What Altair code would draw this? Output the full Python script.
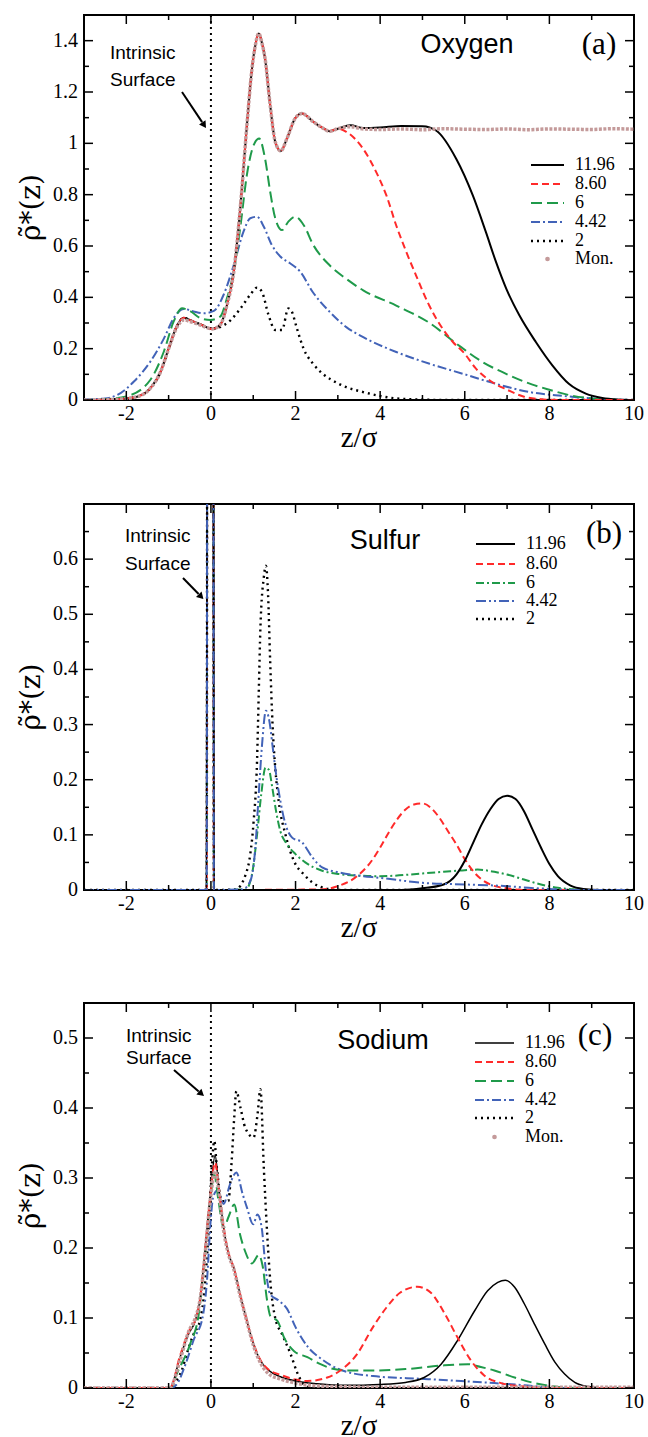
import math
import altair as alt
import pandas as pd

# ---------------- axis ticks ----------------
X_MAJOR = [-2, 0, 2, 4, 6, 8, 10]
X_MINOR = [-1, 1, 3, 5, 7, 9]

Y_MAJ_A = [0, 0.2, 0.4, 0.6, 0.8, 1.0, 1.2, 1.4]
Y_MIN_A = [0.1, 0.3, 0.5, 0.7, 0.9, 1.1, 1.3]
Y_MAJ_B = [0, 0.1, 0.2, 0.3, 0.4, 0.5, 0.6]
Y_MIN_B = [0.05, 0.15, 0.25, 0.35, 0.45, 0.55, 0.65]
Y_MAJ_C = [0, 0.1, 0.2, 0.3, 0.4, 0.5]
Y_MIN_C = [0.05, 0.15, 0.25, 0.35, 0.45]

LABELS_AC = ["11.96", "8.60", "6", "4.42", "2", "Mon."]
LABELS_B = ["11.96", "8.60", "6", "4.42", "2"]

# ---------------- (a) Oxygen ----------------
OX_1196_Z = [-3, -2.5, -2, -1.7, -1.43, -1.19, -1.0, -0.8, -0.64, -0.48, -0.25, 0.03, 0.22, 0.38,
             0.54, 0.70, 0.85, 0.97, 1.05, 1.13, 1.2, 1.28, 1.40, 1.52, 1.65, 1.80, 1.99, 2.15, 2.42,
             2.66, 2.8, 3.0, 3.3, 3.6, 4.0, 4.5, 5.0, 5.33, 5.8, 6.19, 6.5, 6.74, 6.98, 7.29, 7.68,
             8.07, 8.46, 8.86, 9.25, 9.6, 10]
OX_1196_R = [0, 0.001, 0.006, 0.015, 0.046, 0.11, 0.20, 0.29, 0.32, 0.31, 0.295, 0.277, 0.293, 0.37,
             0.50, 0.76, 1.07, 1.29, 1.382, 1.428, 1.395, 1.33, 1.15, 1.006, 0.97, 1.02, 1.097, 1.116,
             1.084, 1.058, 1.047, 1.057, 1.07, 1.06, 1.062, 1.068, 1.067, 1.049, 0.939, 0.797, 0.654,
             0.537, 0.434, 0.33, 0.226, 0.135, 0.063, 0.025, 0.008, 0.002, 0]

OX_860_Z = [-3, -2.5, -2, -1.7, -1.43, -1.19, -1.0, -0.8, -0.64, -0.48, -0.25, 0.03, 0.22, 0.38,
            0.54, 0.70, 0.85, 0.97, 1.05, 1.13, 1.2, 1.28, 1.40, 1.52, 1.65, 1.80, 1.99, 2.15, 2.42,
            2.66, 2.8, 3.0, 3.2, 3.6, 3.91, 4.15, 4.38, 4.62, 4.85, 5.16, 5.48, 5.72, 6.0, 6.25, 6.6,
            7.0, 7.4, 7.8, 8.2, 10]
OX_860_R = [0, 0.001, 0.006, 0.015, 0.046, 0.11, 0.20, 0.29, 0.32, 0.31, 0.295, 0.277, 0.293, 0.37,
            0.50, 0.76, 1.07, 1.29, 1.382, 1.428, 1.395, 1.33, 1.15, 1.006, 0.97, 1.02, 1.097, 1.116,
            1.084, 1.058, 1.047, 1.057, 1.045, 0.978, 0.887, 0.796, 0.68, 0.576, 0.485, 0.368, 0.277,
            0.226, 0.18, 0.125, 0.075, 0.04, 0.013, 0.003, 0, 0]

OX_6_Z = [-3, -2.5, -2, -1.43, -1.11, -0.88, -0.68, -0.48, -0.25, -0.01, 0.22, 0.38, 0.54, 0.70, 0.85,
          1.01, 1.14, 1.28, 1.40, 1.52, 1.68, 1.83, 1.99, 2.19, 2.42, 2.81, 3.2, 3.6, 4.38, 5.17, 5.8,
          6.4, 7.0, 7.6, 8.0, 8.5, 9.0, 9.5, 10]
OX_6_R = [0, 0.003, 0.014, 0.079, 0.19, 0.306, 0.357, 0.345, 0.319, 0.312, 0.325, 0.397, 0.50, 0.68,
          0.877, 0.993, 1.019, 0.94, 0.812, 0.708, 0.662, 0.695, 0.714, 0.682, 0.604, 0.524, 0.472,
          0.427, 0.368, 0.30, 0.22, 0.15, 0.10, 0.06, 0.04, 0.018, 0.006, 0.001, 0]

OX_442_Z = [-3, -2.5, -2.21, -1.82, -1.43, -1.11, -0.88, -0.64, -0.41, -0.17, 0.07, 0.30, 0.54, 0.77,
            0.93, 1.09, 1.25, 1.44, 1.64, 1.87, 2.11, 2.41, 2.81, 3.2, 3.6, 4.38, 5.17, 5.96, 6.74,
            7.53, 8.31, 9.1, 9.6, 10]
OX_442_R = [0.002, 0.006, 0.02, 0.072, 0.15, 0.24, 0.319, 0.355, 0.345, 0.338, 0.347, 0.41, 0.526,
            0.656, 0.708, 0.714, 0.675, 0.604, 0.559, 0.533, 0.5, 0.42, 0.343, 0.284, 0.245, 0.187,
            0.141, 0.102, 0.063, 0.031, 0.016, 0.005, 0.001, 0]

OX_2_Z = [-3, -2, -1.7, -1.43, -1.19, -1.0, -0.8, -0.64, -0.48, -0.25, 0.03, 0.14, 0.46, 0.70, 0.93,
          1.09, 1.21, 1.36, 1.52, 1.68, 1.83, 1.91, 2.03, 2.19, 2.42, 2.66, 3.0, 3.2, 3.6, 3.99, 4.38,
          4.77, 5.5, 10]
OX_2_R = [0, 0.006, 0.015, 0.046, 0.11, 0.20, 0.29, 0.32, 0.31, 0.295, 0.277, 0.28, 0.31, 0.357,
          0.41, 0.438, 0.42, 0.332, 0.273, 0.273, 0.357, 0.345, 0.28, 0.2, 0.14, 0.1, 0.065, 0.05,
          0.031, 0.016, 0.006, 0.003, 0, 0]

OX_MON_Z = [-3, -2.5, -2, -1.7, -1.43, -1.19, -1.0, -0.8, -0.64, -0.48, -0.25, 0.03, 0.22, 0.38,
            0.54, 0.70, 0.85, 0.97, 1.05, 1.13, 1.2, 1.28, 1.40, 1.52, 1.65, 1.80, 1.99, 2.15, 2.42,
            2.66, 2.8, 3.0, 3.3, 3.6, 4.0, 4.5, 5.0, 5.5, 6.0, 6.5, 7.0, 7.5, 8.0, 8.5, 9.0, 9.5, 10]
OX_MON_R = [0, 0.001, 0.006, 0.015, 0.046, 0.11, 0.20, 0.285, 0.312, 0.305, 0.292, 0.277, 0.293, 0.37,
            0.50, 0.76, 1.07, 1.29, 1.382, 1.428, 1.395, 1.33, 1.15, 1.006, 0.97, 1.02, 1.097, 1.116,
            1.084, 1.058, 1.047, 1.057, 1.065, 1.056, 1.054, 1.056, 1.053, 1.057, 1.055, 1.054, 1.056,
            1.053, 1.056, 1.055, 1.054, 1.057, 1.055]

# ---------------- (b) Sulfur ----------------
SU_1196_Z = [-3, -0.1, -0.07, 0.04, 0.07, 4.5, 5.0, 5.5, 5.8, 6.0, 6.2, 6.4, 6.6, 6.8, 7.0, 7.2, 7.4,
             7.6, 7.8, 8.0, 8.2, 8.5, 8.8, 9.2, 10]
SU_1196_R = [0, 0, 3, 3, 0, 0, 0.003, 0.01, 0.028, 0.053, 0.086, 0.119, 0.146, 0.165, 0.171, 0.165,
             0.143, 0.11, 0.077, 0.047, 0.025, 0.008, 0.002, 0, 0]

SU_860_Z = [-3, -0.1, -0.07, 0.04, 0.07, 2.6, 3.0, 3.4, 3.8, 4.0, 4.2, 4.4, 4.6, 4.8, 5.0, 5.2, 5.4,
            5.6, 5.8, 6.0, 6.2, 6.4, 6.6, 7.0, 7.5, 10]
SU_860_R = [0, 0, 3, 3, 0, 0.001, 0.007, 0.022, 0.053, 0.077, 0.104, 0.128, 0.146, 0.155, 0.157,
            0.149, 0.131, 0.107, 0.083, 0.056, 0.034, 0.019, 0.01, 0.003, 0, 0]

SU_6_Z = [-3, -0.1, -0.07, 0.04, 0.07, 0.82, 0.97, 1.09, 1.19, 1.29, 1.37, 1.45, 1.54, 1.64, 1.8,
          2.0, 2.23, 2.63, 3.03, 3.5, 4.0, 5.0, 5.5, 6.0, 6.3, 6.7, 7.0, 7.4, 7.8, 8.2, 8.6, 9.0, 10]
SU_6_R = [0, 0, 3, 3, 0, 0.001, 0.028, 0.10, 0.174, 0.222, 0.218, 0.186, 0.143, 0.107, 0.083, 0.065,
          0.05, 0.035, 0.029, 0.026, 0.025, 0.03, 0.033, 0.036, 0.037, 0.033, 0.028, 0.019, 0.01,
          0.004, 0.001, 0, 0]

SU_442_Z = [-3, -0.1, -0.07, 0.04, 0.07, 0.74, 0.93, 1.05, 1.13, 1.21, 1.30, 1.38, 1.46, 1.54, 1.64,
            1.76, 1.92, 2.16, 2.4, 2.63, 3.03, 3.5, 4.0, 5.0, 6.0, 7.0, 7.5, 8.0, 8.5, 10]
SU_442_R = [0, 0, 3, 3, 0, 0.001, 0.016, 0.077, 0.174, 0.265, 0.325, 0.307, 0.259, 0.21, 0.162, 0.12,
            0.095, 0.086, 0.059, 0.041, 0.032, 0.026, 0.022, 0.013, 0.01, 0.007, 0.004, 0.002, 0, 0]

SU_2_Z = [-3, -0.1, -0.07, 0.04, 0.07, 0.58, 0.82, 0.93, 1.01, 1.09, 1.13, 1.17, 1.25, 1.30, 1.35,
          1.40, 1.46, 1.52, 1.60, 1.76, 1.96, 2.2, 2.55, 3.0, 10]
SU_2_R = [0, 0, 3, 3, 0, 0.001, 0.028, 0.065, 0.125, 0.234, 0.356, 0.476, 0.567, 0.588, 0.537, 0.416,
          0.295, 0.222, 0.162, 0.101, 0.053, 0.028, 0.007, 0, 0]

# ---------------- (c) Sodium ----------------
NA_1196_Z = [-3, -0.97, -0.73, -0.53, -0.37, -0.26, -0.14, -0.03, 0.1, 0.18, 0.30, 0.42, 0.54, 0.69,
             0.85, 1.01, 1.17, 1.37, 1.64, 2.0, 2.5, 3.0, 3.5, 3.98, 4.6, 5.04, 5.44, 5.83, 6.23, 6.54,
             6.78, 6.96, 7.18, 7.41, 7.65, 7.89, 8.13, 8.36, 8.6, 8.92, 9.2, 10]
NA_1196_R = [0, 0, 0.044, 0.077, 0.096, 0.125, 0.196, 0.267, 0.332, 0.29, 0.229, 0.191, 0.172, 0.134,
             0.096, 0.062, 0.039, 0.025, 0.016, 0.01, 0.006, 0.004, 0.004, 0.005, 0.008, 0.015, 0.034,
             0.068, 0.11, 0.139, 0.151, 0.154, 0.144, 0.12, 0.091, 0.063, 0.037, 0.02, 0.008, 0.002, 0, 0]

NA_860_Z = [-3, -0.97, -0.73, -0.53, -0.37, -0.26, -0.14, -0.03, 0.1, 0.18, 0.30, 0.42, 0.54, 0.69,
            0.85, 1.01, 1.17, 1.37, 1.64, 2.0, 2.28, 2.75, 3.06, 3.45, 3.83, 4.15, 4.47, 4.88, 5.2,
            5.51, 5.83, 6.15, 6.46, 6.86, 7.41, 8.0, 10]
NA_860_R = [0, 0, 0.046, 0.08, 0.097, 0.125, 0.196, 0.265, 0.322, 0.288, 0.23, 0.192, 0.172, 0.134,
            0.096, 0.063, 0.04, 0.026, 0.019, 0.012, 0.01, 0.015, 0.025, 0.048, 0.087, 0.115, 0.136,
            0.1446, 0.136, 0.108, 0.072, 0.039, 0.018, 0.007, 0.002, 0, 0]

NA_6_Z = [-3, -0.95, -0.81, -0.49, -0.29, -0.14, -0.02, 0.08, 0.18, 0.30, 0.42, 0.55, 0.69, 0.81, 0.97,
          1.13, 1.22, 1.33, 1.41, 1.57, 1.73, 1.96, 2.28, 2.59, 2.91, 3.22, 3.83, 4.6, 5.44, 6.07,
          6.38, 6.7, 7.18, 7.65, 8.13, 8.5, 10]
NA_6_R = [0, 0, 0.02, 0.063, 0.105, 0.19, 0.267, 0.305, 0.267, 0.229, 0.245, 0.262, 0.219, 0.195,
          0.178, 0.19, 0.175, 0.124, 0.102, 0.096, 0.072, 0.053, 0.044, 0.034, 0.027, 0.025, 0.025,
          0.027, 0.032, 0.034, 0.03, 0.025, 0.015, 0.007, 0.002, 0, 0]

NA_442_Z = [-3, -0.95, -0.8, -0.6, -0.4, -0.2, -0.1, 0.0, 0.05, 0.15, 0.3, 0.45, 0.6, 0.75, 0.85, 1.0,
            1.1, 1.2, 1.3, 1.4, 1.6, 1.8, 2.0, 2.3, 2.6, 3.06, 3.83, 5.04, 5.91, 6.7, 7.41, 7.97, 8.5,
            10]
NA_442_R = [0, 0, 0.006, 0.034, 0.07, 0.1, 0.148, 0.244, 0.272, 0.282, 0.263, 0.291, 0.308, 0.277,
            0.258, 0.234, 0.248, 0.229, 0.167, 0.134, 0.125, 0.113, 0.087, 0.058, 0.042, 0.026, 0.017,
            0.013, 0.01, 0.007, 0.004, 0.001, 0, 0]

NA_2_Z = [-3, -1.0, -0.9, -0.69, -0.57, -0.41, -0.26, -0.14, -0.06, 0.02, 0.08, 0.14, 0.26, 0.41,
          0.49, 0.55, 0.6, 0.7, 0.81, 1.01, 1.1, 1.17, 1.25, 1.33, 1.41, 1.52, 1.68, 1.88, 2.04, 2.2,
          2.4, 10]
NA_2_R = [0, 0, 0.005, 0.025, 0.049, 0.077, 0.096, 0.148, 0.22, 0.315, 0.353, 0.315, 0.267, 0.267,
          0.324, 0.386, 0.424, 0.4, 0.372, 0.358, 0.39, 0.427, 0.315, 0.22, 0.148, 0.1, 0.077, 0.049,
          0.022, 0.005, 0, 0]

NA_MON_Z = [-3, -0.97, -0.73, -0.53, -0.37, -0.26, -0.14, -0.03, 0.1, 0.18, 0.30, 0.42, 0.54, 0.69,
            0.85, 1.01, 1.17, 1.37, 1.64, 2.0, 2.5, 3.0, 4.0, 5.0, 6.0, 7.0, 8.0, 9.0, 10]
NA_MON_R = [0, 0, 0.04, 0.08, 0.1, 0.125, 0.19, 0.26, 0.31, 0.285, 0.225, 0.19, 0.17, 0.132, 0.095,
            0.06, 0.036, 0.02, 0.013, 0.007, 0.003, 0.002, 0.001, 0.001, 0.001, 0.001, 0.001, 0.001,
            0.001]

# ---------------- styles ----------------
SERIF = "Liberation Serif"
SERIF_GREEK = "DejaVu Serif"
SANS = "Liberation Sans"
RED = "#ff2a2a"
GREEN = "#1f9a4a"
BLUE = "#4263b8"
MONC = "#c49a9a"

SOLID = dict(color="black", strokeWidth=2)
SOLID_THIN = dict(color="black", strokeWidth=1.5)
RED_D = dict(color=RED, strokeDash=[7, 4], strokeWidth=2)
GREEN_LD = dict(color=GREEN, strokeDash=[11, 5], strokeWidth=2)
GREEN_DD = dict(color=GREEN, strokeDash=[8, 3, 2, 3], strokeWidth=2)
BLUE_DD = dict(color=BLUE, strokeDash=[9, 3, 2, 3], strokeWidth=2)
BLUE_DDD = dict(color=BLUE, strokeDash=[10, 3, 2, 3, 2, 3], strokeWidth=2)
DOTS = dict(color="black", strokeDash=[2, 4], strokeWidth=2.4)
MON_S = dict(color=MONC, strokeDash=[3, 1.5], strokeWidth=3.5)

W = 550
ONE = pd.DataFrame({"k": [0]})


def panel(series, ymax, ymaj, ymin, H, name, name_xy, tag, tag_xy,
          legend, intrinsic_xy, arrow, surface):
    xs = alt.Scale(domain=[-3, 10], nice=False, zero=False)
    ys = alt.Scale(domain=[0, ymax], nice=False, zero=False)

    def X(field="z"):
        return alt.X(f"{field}:Q", scale=xs, axis=None)

    def Y(field="rho"):
        return alt.Y(f"{field}:Q", scale=ys, axis=None)

    def label(txt, x, y, **kw):
        return alt.Chart(ONE).mark_text(text=txt, color="black", **kw).encode(
            x=alt.value(x), y=alt.value(y))

    layers = []

    # intrinsic surface marker at z = 0
    if surface is not None:
        enc = dict(x=X())
        if surface > 0:
            enc.update(y=alt.value(surface), y2=alt.value(H))
        layers.append(alt.Chart(pd.DataFrame({"z": [0]}))
                      .mark_rule(color="black", strokeDash=[2, 4], strokeWidth=2)
                      .encode(**enc))

    for zs, rs, style in series:
        df = pd.DataFrame({"z": zs, "rho": rs})
        layers.append(alt.Chart(df).mark_line(interpolate="monotone", clip=True, **style)
                      .encode(x=X(), y=Y()))

    # inward ticks on all four sides
    for vals, L in ((X_MAJOR, 9), (X_MINOR, 5)):
        d = pd.DataFrame({"z": vals})
        for y0, y1 in ((H, H - L), (0, L)):
            layers.append(alt.Chart(d).mark_rule(color="black", strokeWidth=1.5).encode(
                x=X(), y=alt.value(y0), y2=alt.value(y1)))
    for vals, L in ((ymaj, 9), (ymin, 5)):
        d = pd.DataFrame({"rho": vals})
        for x0, x1 in ((0, L), (W, W - L)):
            layers.append(alt.Chart(d).mark_rule(color="black", strokeWidth=1.5).encode(
                y=Y(), x=alt.value(x0), x2=alt.value(x1)))

    # tick labels placed through the scales
    layers.append(
        alt.Chart(pd.DataFrame({"z": X_MAJOR}))
        .transform_calculate(lab="datum.z < 0 ? '-' + abs(datum.z) : '' + datum.z")
        .mark_text(font=SERIF, fontSize=20, align="center", baseline="middle", color="black")
        .encode(x=X(), y=alt.value(H + 14), text="lab:N"))
    layers.append(
        alt.Chart(pd.DataFrame({"rho": ymaj}))
        .transform_calculate(lab="'' + datum.rho")
        .mark_text(font=SERIF, fontSize=20, align="right", baseline="middle", color="black")
        .encode(y=Y(), x=alt.value(-6), text="lab:N"))

    # axis titles
    layers.append(label("z/σ", W / 2, H + 47, font=SERIF, fontSize=29, align="center",
                        baseline="alphabetic"))
    layers.append(label("ρ̃*(z)", -52, H / 2, font=SERIF_GREEK, fontSize=28, align="center",
                        baseline="middle", angle=270))

    # panel name and tag
    layers.append(label(name, name_xy[0], name_xy[1], font=SANS, fontSize=27, align="center",
                        baseline="middle"))
    layers.append(label(tag, tag_xy[0], tag_xy[1], font=SERIF, fontSize=31, align="center",
                        baseline="middle"))

    # "Intrinsic Surface" label with arrow
    ix, iy1, iy2 = intrinsic_xy
    for txt, yy in (("Intrinsic", iy1), ("Surface", iy2)):
        layers.append(label(txt, ix, yy, font=SANS, fontSize=19, align="left", baseline="middle"))
    (tx, ty), (hx, hy) = arrow
    dx, dy = hx - tx, hy - ty
    d = math.hypot(dx, dy)
    ux, uy = dx / d, dy / d
    ang = math.degrees(math.atan2(dx, -dy)) % 360
    layers.append(alt.Chart(ONE).mark_rule(color="black", strokeWidth=2).encode(
        x=alt.value(tx), y=alt.value(ty), x2=alt.value(hx - 7 * ux), y2=alt.value(hy - 7 * uy)))
    layers.append(alt.Chart(ONE).mark_point(shape="triangle", filled=True, size=60, angle=ang,
                                            color="black", opacity=1)
                  .encode(x=alt.value(hx - 4.5 * ux), y=alt.value(hy - 4.5 * uy)))

    # legend
    x0, x1, xt, rows, entries = legend
    for (lab, style), yy in zip(entries, rows):
        if style is None:
            layers.append(alt.Chart(ONE).mark_point(filled=True, size=22, color=MONC, opacity=1)
                          .encode(x=alt.value((x0 + x1) / 2), y=alt.value(yy)))
        else:
            layers.append(alt.Chart(ONE).mark_rule(**style).encode(
                x=alt.value(x0), x2=alt.value(x1), y=alt.value(yy)))
        layers.append(label(lab, xt, yy, font=SERIF, fontSize=18, align="left",
                            baseline="middle"))

    return alt.layer(*layers).properties(width=W, height=H)


Ha, Hb, Hc = 385, 386, 385

pa = panel(
    [(OX_2_Z, OX_2_R, DOTS), (OX_442_Z, OX_442_R, BLUE_DD), (OX_6_Z, OX_6_R, GREEN_LD),
     (OX_1196_Z, OX_1196_R, SOLID), (OX_860_Z, OX_860_R, RED_D), (OX_MON_Z, OX_MON_R, MON_S)],
    1.5, Y_MAJ_A, Y_MIN_A, Ha, "Oxygen", (383, 30), "(a)", (515, 30),
    (447, 480, 491, [150, 169, 188, 207, 226, 244],
     list(zip(LABELS_AC, [SOLID, RED_D, GREEN_LD, BLUE_DD, DOTS, None]))),
    (26, 38, 65), ((98, 77), (122, 113)), 0)

pb = panel(
    [(SU_2_Z, SU_2_R, DOTS), (SU_6_Z, SU_6_R, GREEN_DD), (SU_860_Z, SU_860_R, RED_D),
     (SU_1196_Z, SU_1196_R, SOLID), (SU_442_Z, SU_442_R, BLUE_DDD)],
    0.7, Y_MAJ_B, Y_MIN_B, Hb, "Sulfur", (301, 37), "(b)", (520, 30),
    (392, 431, 442, [40, 60, 79, 97, 115],
     list(zip(LABELS_B, [SOLID, RED_D, GREEN_DD, BLUE_DDD, DOTS]))),
    (41, 32, 60), ((99, 74), (119.5, 95)), None)

pc = panel(
    [(NA_2_Z, NA_2_R, DOTS), (NA_442_Z, NA_442_R, BLUE_DD), (NA_6_Z, NA_6_R, GREEN_LD),
     (NA_1196_Z, NA_1196_R, SOLID_THIN), (NA_860_Z, NA_860_R, RED_D),
     (NA_MON_Z, NA_MON_R, MON_S)],
    0.55, Y_MAJ_C, Y_MIN_C, Hc, "Sodium", (299, 38), "(c)", (511, 33),
    (391, 430, 441, [40, 59, 78, 97, 115, 134],
     list(zip(LABELS_AC, [SOLID_THIN, RED_D, GREEN_LD, BLUE_DD, DOTS, None]))),
    (42, 33, 55), ((90, 67), (120, 93)), 12)

chart = alt.vconcat(alt.vconcat(pa, pb, spacing=48), pc, spacing=57).properties(
    padding={"left": 17, "top": 13, "right": 0, "bottom": 0},
    background="white",
).configure_view(stroke="black", strokeWidth=2)

chart.save("out.html", embed_options={"renderer": "svg", "actions": False})
